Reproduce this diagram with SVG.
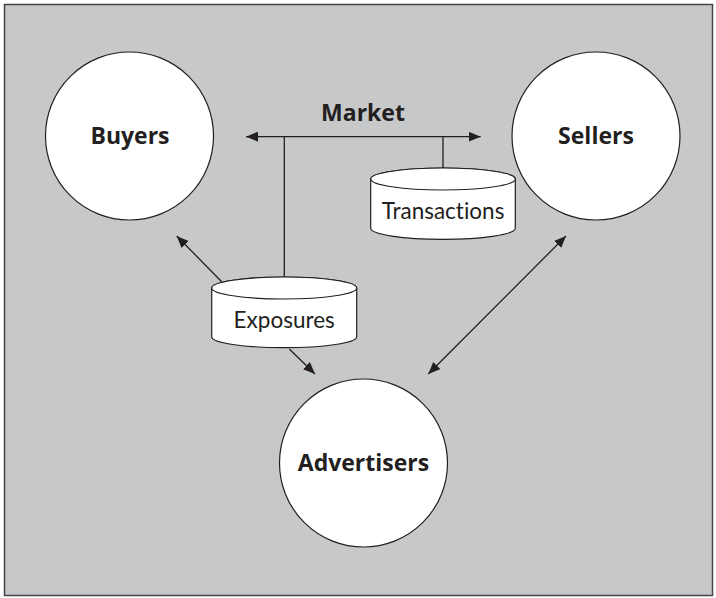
<svg xmlns="http://www.w3.org/2000/svg" width="716" height="598" viewBox="0 0 716 598">
  <style>
    .node { fill: #ffffff; stroke: #231f20; stroke-width: 1.2; }
    .bold { font-family: "Open Sans", "Liberation Sans", sans-serif; font-weight: 700; font-size: 23px; fill: #231f20; text-anchor: middle; }
    .reg { font-family: Lato, "Liberation Sans", sans-serif; font-weight: 400; font-size: 22.5px; fill: #231f20; text-anchor: middle; font-variant-ligatures: none; }
    .conn { stroke: #231f20; stroke-width: 1.3; fill: none; }
  </style>
  <defs>
    <marker id="arrow" viewBox="0 0 12 10" refX="12" refY="5" markerWidth="12" markerHeight="10" markerUnits="userSpaceOnUse" orient="auto-start-reverse">
      <path d="M0,0 L12,5 L0,10 z" fill="#231f20"/>
    </marker>
  </defs>
  <rect x="4.5" y="4.5" width="708" height="591" fill="#c7c8ca" stroke="#444444" stroke-width="1.5"/>

  <g id="connectors">
    <line class="conn" x1="246" y1="136.7" x2="480.7" y2="136.7" marker-start="url(#arrow)" marker-end="url(#arrow)"/>
    <line class="conn" x1="284.3" y1="136.7" x2="284.3" y2="277"/>
    <line class="conn" x1="443" y1="136.7" x2="443" y2="168"/>
    <line class="conn" x1="221.7" y1="281.7" x2="176.7" y2="236" marker-end="url(#arrow)"/>
    <line class="conn" x1="289.3" y1="349" x2="315" y2="374" marker-end="url(#arrow)"/>
    <line class="conn" x1="566" y1="236" x2="428.3" y2="374" marker-start="url(#arrow)" marker-end="url(#arrow)"/>
  </g>

  <g id="market-label">
    <text class="bold" x="363" y="120.5">Market</text>
  </g>

  <g id="buyers">
    <circle class="node" cx="129.5" cy="136" r="84"/>
    <text class="bold" x="130" y="144">Buyers</text>
  </g>

  <g id="sellers">
    <circle class="node" cx="596" cy="136" r="84"/>
    <text class="bold" x="596" y="144">Sellers</text>
  </g>

  <g id="advertisers">
    <circle class="node" cx="363.5" cy="463" r="84"/>
    <text class="bold" x="363.5" y="471">Advertisers</text>
  </g>

  <g id="transactions">
    <path class="node" d="M370.7,179 A72.3,11 0 0 1 515.3,179 V228.3 A72.3,11 0 0 1 370.7,228.3 Z"/>
    <ellipse class="node" cx="443" cy="179" rx="72.3" ry="11"/>
    <text class="reg" x="443" y="219">Transactions</text>
  </g>

  <g id="exposures">
    <path class="node" d="M211.7,288 A72.5,11 0 0 1 356.7,288 V336.7 A72.5,11 0 0 1 211.7,336.7 Z"/>
    <ellipse class="node" cx="284.2" cy="288" rx="72.5" ry="11"/>
    <text class="reg" x="284.2" y="328">Exposures</text>
  </g>
</svg>
